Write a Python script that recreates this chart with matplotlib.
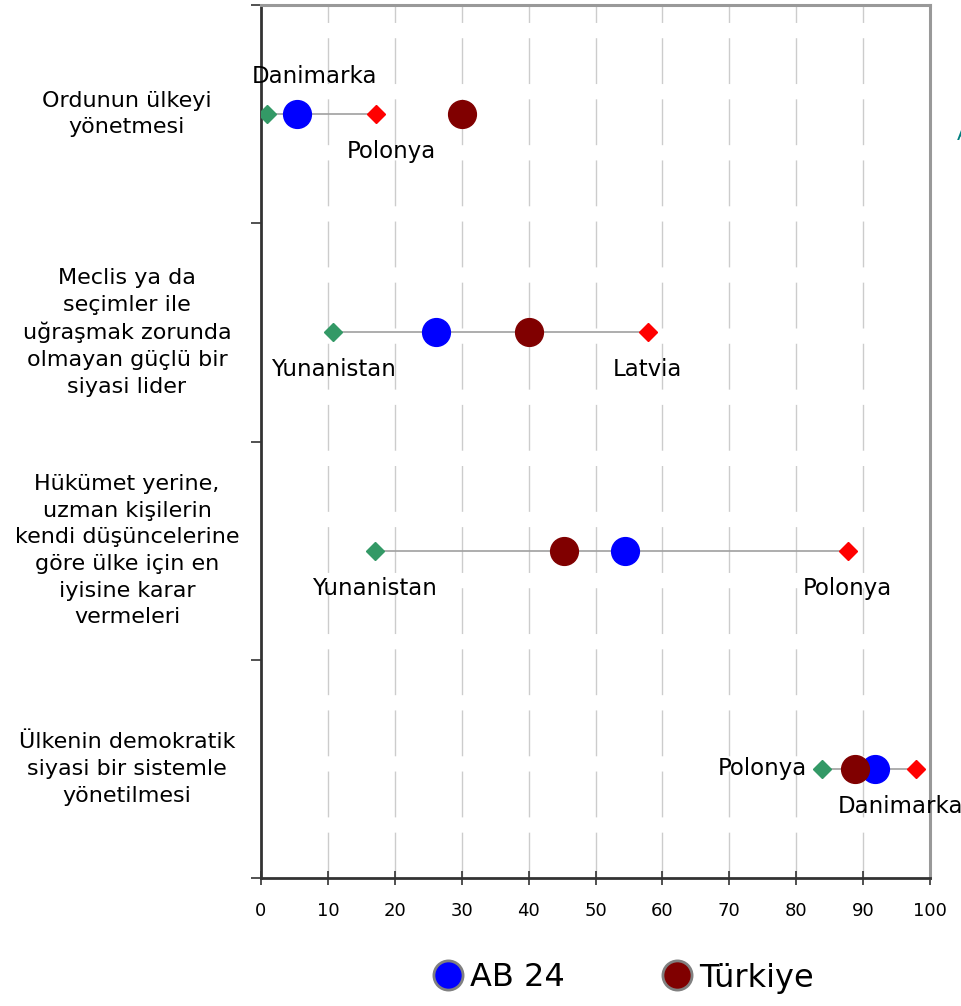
import numpy as np
import matplotlib
matplotlib.use("Agg")
import matplotlib.pyplot as plt
from matplotlib.lines import Line2D
import matplotlib.transforms as mtransforms

# questions (top to bottom)
questions = [
    "Ordunun ülkeyi\nyönetmesi",
    "Meclis ya da\nseçimler ile\nuğraşmak zorunda\nolmayan güçlü bir\nsiyasi lider",
    "Hükümet yerine,\nuzman kişilerin\nkendi düşüncelerine\ngöre ülke için en\niyisine karar\nvermeleri",
    "Ülkenin demokratik\nsiyasi bir sistemle\nyönetilmesi",
]

eu_min = [0.9, 10.8, 17.0, 83.9]
eu_max = [17.2, 57.8, 87.7, 97.9]
eu_avg = [5.4, 26.2, 54.4, 91.8]
turkey = [30.0, 40.1, 45.3, 88.8]

min_country = ["Danimarka", "Yunanistan", "Yunanistan", "Polonya"]
max_country = ["Polonya", "Latvia", "Polonya", "Danimarka"]

x_ticks = [0, 10, 20, 30, 40, 50, 60, 70, 80, 90, 100]

# label placement (offset in points, ha) for min / max labels
min_label_pos = [((34, 27), "center"), ((0, -27), "center"),
                 ((0, -27), "center"), ((-11, 0), "right")]
max_label_pos = [((11, -27), "center"), ((0, -27), "center"),
                 ((0, -27), "center"), ((-11, -27), "center")]

GREEN = "#339966"
RED = "#FF0000"
BLUE = "#0000FF"
DARKRED = "#800000"
FS_Q = 16
FS_LBL = 16.5

fig = plt.figure(figsize=(9.62, 10.06), dpi=100)
ax = fig.add_axes([261 / 962, 1 - 878 / 1006, 669 / 962, 873 / 1006])

n = len(questions)
ys = np.arange(n) + 0.5

for i, y in enumerate(ys):
    ax.plot([eu_min[i], eu_max[i]], [y, y], color="#a0a0a0", lw=1.2, zorder=2)
ax.plot(eu_min, ys, "D", color=GREEN, ms=9, mec=GREEN, zorder=3)
ax.plot(eu_max, ys, "D", color=RED, ms=9, mec=RED, zorder=3)
ax.plot(eu_avg, ys, "o", color=BLUE, ms=20, mec=BLUE, zorder=4)
ax.plot(turkey, ys, "o", color=DARKRED, ms=20, mec=DARKRED, zorder=5)

for i, y in enumerate(ys):
    (off, ha) = min_label_pos[i]
    ax.annotate(min_country[i], (eu_min[i], y), xytext=off,
                textcoords="offset points", ha=ha, va="center",
                fontsize=FS_LBL, annotation_clip=False)
    (off, ha) = max_label_pos[i]
    ax.annotate(max_country[i], (eu_max[i], y), xytext=off,
                textcoords="offset points", ha=ha, va="center",
                fontsize=FS_LBL, annotation_clip=False)

ax.set_xlim(0, 100)
ax.set_ylim(n, 0)
ax.set_xticks(x_ticks)
ax.set_xticklabels([str(t) for t in x_ticks], fontsize=13)
ax.set_yticks(np.arange(n + 1))
ax.set_yticklabels([])
ax.tick_params(axis="x", direction="inout", length=10, width=1.2,
               color="#333333", pad=12)
ax.tick_params(axis="y", direction="out", length=7, width=1.2,
               color="#333333")

for t in x_ticks[1:-1]:
    ax.axvline(t, color="#cccccc", lw=1, dashes=(33, 11), zorder=1)

ax.spines["left"].set_color("#333333")
ax.spines["left"].set_linewidth(2)
ax.spines["bottom"].set_color("#333333")
ax.spines["bottom"].set_linewidth(2)
ax.spines["top"].set_color("#999999")
ax.spines["top"].set_linewidth(2.2)
ax.spines["right"].set_color("#999999")
ax.spines["right"].set_linewidth(2.2)

trans = mtransforms.blended_transform_factory(fig.transFigure, ax.transData)
for q, y in zip(questions, ys):
    ax.text(127 / 962, y, q, transform=trans, ha="center", va="center",
            multialignment="center", fontsize=FS_Q, linespacing=1.42)

# clipped fragment at right edge, as in the source
fig.text(957 / 962, 1 - 135 / 1006, "A", color="#008080", fontsize=14,
         ha="left", va="center")

handles = [
    Line2D([], [], ls="none", marker="o", ms=21, mfc=BLUE, mec="#808080", mew=2),
    Line2D([], [], ls="none", marker="o", ms=21, mfc=DARKRED, mec="#808080", mew=2),
]
fig.legend(handles, ["AB 24", "Türkiye"], loc="center",
           bbox_to_anchor=(623 / 962, 1 - 978 / 1006), ncol=2, frameon=False,
           fontsize=23, handletextpad=0.2, columnspacing=3.0,
           handlelength=1.0)

fig.savefig("out.png", dpi=100)
